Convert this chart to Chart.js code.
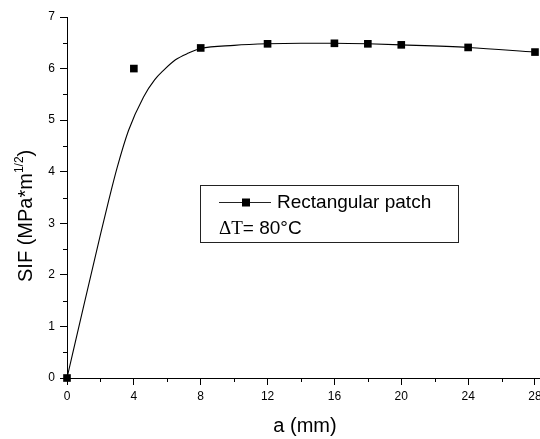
<!DOCTYPE html>
<html>
<head>
<meta charset="utf-8">
<script src="https://cdn.jsdelivr.net/npm/chart.js@4"></script>
<style>
  html, body { margin: 0; padding: 0; background: #fff; }
  #wrap { width: 540px; height: 439px; }
</style>
</head>
<body>
<div id="wrap"><canvas id="grafico"></canvas></div>
<script>
// measured SIF values at each crack length
const crackLen = [0, 4, 8, 12, 16, 18, 20, 24, 28];
const sif = [0, 6.0, 6.40, 6.48, 6.49, 6.48, 6.46, 6.41, 6.32];

// smooth fitted curve through the data
const curveX = [0, 1, 2, 2.5, 3, 3.68, 4.58, 5.24, 5.79, 6.49, 7.27, 8, 10, 12, 14, 16, 18, 20, 24, 28];
const curveY = [0, 1.4, 2.78, 3.45, 4.08, 4.8, 5.45, 5.78, 5.97, 6.17, 6.30, 6.39, 6.45, 6.48, 6.49, 6.49, 6.48, 6.46, 6.41, 6.32];

const xTicks = [0, 4, 8, 12, 16, 20, 24, 28];
const xMinor = [2, 6, 10, 14, 18, 22, 26];
const yTicks = [0, 1, 2, 3, 4, 5, 6, 7];
const yMinor = [0.5, 1.5, 2.5, 3.5, 4.5, 5.5, 6.5];

const serieNombre = 'Rectangular patch';
const notaTemp = '= 80°C';

const sans = '"Liberation Sans", Arial, sans-serif';

// minor ticks, axis titles and the boxed legend
const extras = {
    id: 'extras',
    afterDraw(chart) {
        const ctx = chart.ctx;
        const x = chart.scales.x, y = chart.scales.y;
        const area = chart.chartArea;
        ctx.save();
        ctx.strokeStyle = '#000';
        ctx.lineWidth = 1;
        ctx.beginPath();
        xMinor.forEach(v => {
            const px = Math.round(x.getPixelForValue(v)) + 0.5;
            ctx.moveTo(px, area.bottom);
            ctx.lineTo(px, area.bottom + 4);
        });
        yMinor.forEach(v => {
            const py = Math.round(y.getPixelForValue(v)) + 0.5;
            ctx.moveTo(area.left, py);
            ctx.lineTo(area.left - 4, py);
        });
        ctx.stroke();

        // x title
        ctx.fillStyle = '#000';
        ctx.font = '20px ' + sans;
        ctx.textAlign = 'center';
        ctx.textBaseline = 'alphabetic';
        ctx.fillText('a (mm)', 305, 432);

        // y title with superscript
        ctx.save();
        ctx.translate(32, 282);
        ctx.rotate(-Math.PI / 2);
        ctx.textAlign = 'left';
        ctx.font = '20px ' + sans;
        const t1 = 'SIF (MPa*m';
        ctx.fillText(t1, 0, 0);
        let w = ctx.measureText(t1).width;
        ctx.font = '12px ' + sans;
        ctx.fillText('1/2', w, -9);
        w += ctx.measureText('1/2').width;
        ctx.font = '20px ' + sans;
        ctx.fillText(')', w, 0);
        ctx.restore();

        // legend box
        ctx.strokeStyle = '#222';
        ctx.strokeRect(200.5, 185.5, 258, 57);
        ctx.beginPath();
        ctx.moveTo(219, 202.5);
        ctx.lineTo(271, 202.5);
        ctx.stroke();
        ctx.fillRect(242, 198.5, 8, 8);
        ctx.font = '19px ' + sans;
        ctx.textAlign = 'left';
        ctx.fillText(serieNombre, 277, 208);
        ctx.font = '19px "Liberation Serif", "Times New Roman", serif';
        ctx.fillText('\u0394T', 219, 234);
        const dw = ctx.measureText('\u0394T').width;
        ctx.font = '19px ' + sans;
        ctx.fillText(notaTemp, 219 + dw, 234);
        ctx.restore();
    }
};

new Chart(document.getElementById('grafico'), {
    type: 'scatter',
    data: {
        datasets: [
            {
                label: 'curve',
                data: curveX.map((v, i) => ({ x: v, y: curveY[i] })),
                showLine: true,
                borderColor: '#000',
                borderWidth: 1.1,
                pointRadius: 0,
                cubicInterpolationMode: 'monotone',
                clip: false
            },
            {
                label: serieNombre,
                data: crackLen.map((v, i) => ({ x: v, y: sif[i] })),
                showLine: false,
                pointStyle: 'rect',
                pointRadius: 5.4,
                backgroundColor: '#000',
                borderColor: '#000',
                borderWidth: 0,
                clip: false
            }
        ]
    },
    options: {
        responsive: true,
        maintainAspectRatio: false,
        animation: false,
        layout: { autoPadding: false, padding: { top: 17, right: 0, left: 0, bottom: 0 } },
        plugins: { legend: { display: false }, tooltip: { enabled: false } },
        scales: {
            x: {
                type: 'linear',
                min: 0,
                max: 28.3,
                afterBuildTicks: s => { s.ticks = xTicks.map(v => ({ value: v })); },
                afterFit: s => { s.height = 61; s.paddingLeft = 0; s.paddingRight = 0; },
                border: { display: true, color: '#000', width: 1 },
                grid: { drawOnChartArea: false, drawTicks: true, tickLength: 7, color: '#000' },
                ticks: { color: '#000', font: { family: sans, size: 12 }, padding: 4, maxRotation: 0 }
            },
            y: {
                min: 0,
                max: 7,
                afterBuildTicks: s => { s.ticks = yTicks.map(v => ({ value: v })); },
                afterFit: s => { s.width = 67; s.paddingTop = 0; s.paddingBottom = 0; },
                border: { display: true, color: '#000', width: 1 },
                grid: { drawOnChartArea: false, drawTicks: true, tickLength: 7, color: '#000' },
                ticks: { color: '#000', font: { family: sans, size: 12 }, padding: 5 }
            }
        }
    },
    plugins: [extras]
});
</script>
</body>
</html>
